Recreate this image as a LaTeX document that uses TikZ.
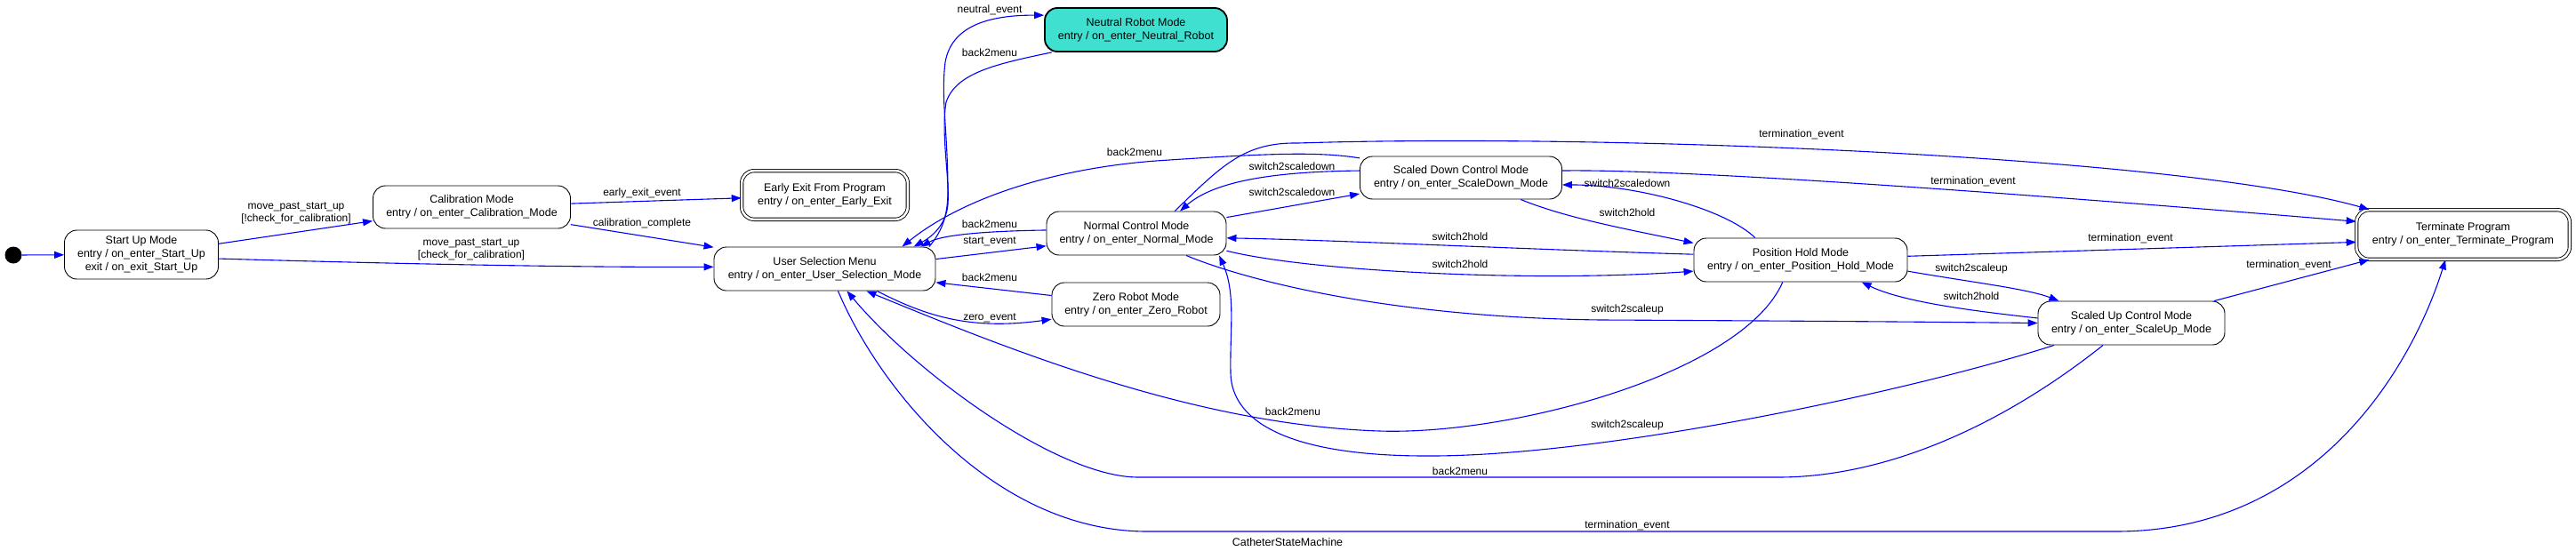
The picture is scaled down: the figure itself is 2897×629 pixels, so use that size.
\documentclass[tikz,border=0pt]{standalone}
\usepackage{fontspec}
\setmainfont{Liberation Sans}
\usepackage{tikz}
\usetikzlibrary{arrows.meta}
\definecolor{turq}{HTML}{40E0D0}

\begin{document}
\begin{tikzpicture}[x=1pt,y=-1pt,>={Triangle[length=11pt,width=8pt]},
  state/.style={draw,rounded corners=14pt,align=center,inner sep=0pt,line width=0.9pt,font=\fontsize{12.5}{15}\selectfont},
  final/.style={state,double,double distance=2.5pt},
  lbl/.style={inner sep=0pt,align=center,font=\fontsize{12}{14}\selectfont},
  tr/.style={->,blue,line width=1.1pt}]
  \useasboundingbox (0,0) rectangle (2897,629);
  % states
  \node[circle,fill=black,minimum size=19pt,inner sep=0pt] (init) at (15,287) {};
  \node[state,minimum width=173pt,minimum height=55pt] (startup) at (159,286.5) {Start Up Mode\\entry / on\_enter\_Start\_Up\\exit / on\_exit\_Start\_Up};
  \node[state,minimum width=222pt,minimum height=48pt] (calib) at (530.5,233) {Calibration Mode\\entry / on\_enter\_Calibration\_Mode};
  \node[final,minimum width=186.7pt,minimum height=54.7pt] (earlyexit) at (927.5,219.5) {Early Exit From Program\\entry / on\_enter\_Early\_Exit};
  \node[state,minimum width=249pt,minimum height=49pt] (usermenu) at (927.5,302.5) {User Selection Menu\\entry / on\_enter\_User\_Selection\_Mode};
  \node[state,fill=turq,line width=1.8pt,minimum width=205pt,minimum height=49pt] (neutral) at (1277.5,33.5) {Neutral Robot Mode\\entry / on\_enter\_Neutral\_Robot};
  \node[state,minimum width=202pt,minimum height=49pt] (normal) at (1278,262.5) {Normal Control Mode\\entry / on\_enter\_Normal\_Mode};
  \node[state,minimum width=189pt,minimum height=49pt] (zero) at (1277.5,342.5) {Zero Robot Mode\\entry / on\_enter\_Zero\_Robot};
  \node[state,minimum width=227pt,minimum height=48pt] (scaledown) at (1643,200) {Scaled Down Control Mode\\entry / on\_enter\_ScaleDown\_Mode};
  \node[state,minimum width=240pt,minimum height=49pt] (poshold) at (2025,292.5) {Position Hold Mode\\entry / on\_enter\_Position\_Hold\_Mode};
  \node[state,minimum width=210pt,minimum height=49pt] (scaleup) at (2397,363.5) {Scaled Up Control Mode\\entry / on\_enter\_ScaleUp\_Mode};
  \node[final,minimum width=239.7pt,minimum height=55.7pt] (terminate) at (2770,264) {Terminate Program\\entry / on\_enter\_Terminate\_Program};
  \node[lbl,font=\fontsize{12.5}{15}\selectfont] (caption) at (1448,610) {CatheterStateMachine};
  % transitions
  \draw[tr] (init) -- (startup);
  \draw[tr] (startup.8) -- (calib.188);
  \draw[tr] (startup.-3) .. controls (450,297) and (650,301) .. (usermenu.179);
  \draw[tr] (calib.2) -- (earlyexit.182);
  \draw[tr] (calib.-10) -- (usermenu.169);
  \draw[tr] (usermenu.5) -- (normal.188);
  \draw[tr] (normal.178) .. controls (1110,260) and (1060,264) .. (usermenu.13);
  \draw[tr] (neutral.195) .. controls (1120,72) and (1075,82) .. (1064,115) .. controls (1058,150) and (1068,200) .. (1066,230) .. controls (1064,255) and (1045,268) .. (usermenu.14);
  \draw[tr] (usermenu.12) .. controls (1058,262) and (1066,245) .. (1066,215) .. controls (1066,150) and (1058,110) .. (1063,70) .. controls (1070,30) and (1110,17) .. (neutral.171);
  \draw[tr] (zero.174) -- (usermenu.-7);
  \draw[tr] (usermenu.-23) .. controls (1040,355) and (1090,372) .. (zero.190);
  \draw[tr] (scaledown.169) .. controls (1480,170) and (1420,173) .. (1300,181) .. controls (1180,190) and (1080,225) .. (usermenu.16);
  \draw[tr] (normal.10) -- (scaledown.189);
  \draw[tr] (scaledown.176) .. controls (1450,193) and (1370,200) .. (normal.27);
  \draw[tr] (normal.30) .. controls (1375,185) and (1400,160) .. (1460,161) .. controls (1800,150) and (2450,175) .. (terminate.165);
  \draw[tr] (scaledown.4) .. controls (1900,190) and (2300,220) .. (terminate.173);
  \draw[tr] (scaledown.-20) .. controls (1760,245) and (1830,258) .. (poshold.171);
  \draw[tr] (poshold.154) .. controls (1940,235) and (1840,208) .. (scaledown.-4);
  \draw[tr] (poshold.177) .. controls (1700,280) and (1500,270) .. (normal.-3);
  \draw[tr] (normal.-11) .. controls (1470,305) and (1720,318) .. (poshold.186);
  \draw[tr] (poshold.2) -- (terminate.184);
  \draw[tr] (poshold.-6) .. controls (2220,318) and (2280,325) .. (scaleup.163);
  \draw[tr] (scaleup.177) .. controls (2220,350) and (2140,340) .. (poshold.-20);
  \draw[tr] (scaleup.15) -- (terminate.195);
  \draw[tr] (normal.-24) .. controls (1400,315) and (1560,357) .. (1800,360) .. controls (2000,361) and (2150,362) .. (scaleup.180);
  \draw[tr] (poshold.231) .. controls (1960,420) and (1700,490) .. (1551,485) .. controls (1350,478) and (1150,400) .. (usermenu.-28);
  \draw[tr] (scaleup.196) .. controls (2150,440) and (1800,515) .. (1599,513) .. controls (1440,512) and (1385,470) .. (1384,420) .. controls (1383,370) and (1390,330) .. (normal.-15);
  \draw[tr] (scaleup.218) .. controls (2250,480) and (2120,537) .. (2000,537) -- (1280,537) .. controls (1190,537) and (1030,420) .. (usermenu.-45);
  \draw[tr] (usermenu.-59) .. controls (990,440) and (1120,598) .. (1290,598) -- (2380,598) .. controls (2600,598) and (2710,420) .. (terminate.235);
  % labels
  \node[lbl] (l1) at (333,240) {move\_past\_start\_up\\{}[!check\_for\_calibration]};
  \node[lbl] (l2) at (530,281) {move\_past\_start\_up\\{}[check\_for\_calibration]};
  \node[lbl] (l3) at (722,217) {early\_exit\_event};
  \node[lbl] (l4) at (722,251) {calibration\_complete};
  \node[lbl] (l5) at (1113,11) {neutral\_event};
  \node[lbl] (l6) at (1113,59) {back2menu};
  \node[lbl] (l7) at (1113,252) {back2menu};
  \node[lbl] (l8) at (1113,272) {start\_event};
  \node[lbl] (l9) at (1113,312) {back2menu};
  \node[lbl] (l10) at (1113,358) {zero\_event};
  \node[lbl] (l11) at (1276,171) {back2menu};
  \node[lbl] (l12) at (1453,187) {switch2scaledown};
  \node[lbl] (l13) at (1453,216) {switch2scaledown};
  \node[lbl] (l14) at (2026,151) {termination\_event};
  \node[lbl] (l15) at (2219,204) {termination\_event};
  \node[lbl] (l16) at (1830,206) {switch2scaledown};
  \node[lbl] (l17) at (1830,239) {switch2hold};
  \node[lbl] (l18) at (1642,266) {switch2hold};
  \node[lbl] (l19) at (1642,297) {switch2hold};
  \node[lbl] (l20) at (2396,268) {termination\_event};
  \node[lbl] (l21) at (2217,302) {switch2scaleup};
  \node[lbl] (l22) at (2217,333) {switch2hold};
  \node[lbl] (l23) at (2574,298) {termination\_event};
  \node[lbl] (l24) at (1830,348) {switch2scaleup};
  \node[lbl] (l25) at (1454,463) {back2menu};
  \node[lbl] (l26) at (1830,478) {switch2scaleup};
  \node[lbl] (l27) at (1642,530) {back2menu};
  \node[lbl] (l28) at (1830,591) {termination\_event};
\end{tikzpicture}
\end{document}
